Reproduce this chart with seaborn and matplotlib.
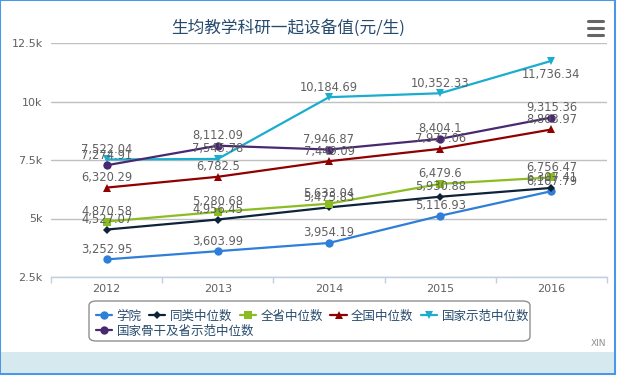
"""生均教学科研仪器设备值折线图（Highcharts 风格复刻）。"""

import matplotlib
matplotlib.use("Agg")
import matplotlib.pyplot as plt
import pandas as pd
import seaborn as sns
from matplotlib.patches import FancyBboxPatch, Rectangle
from matplotlib.lines import Line2D

YEARS = [2012, 2013, 2014, 2015, 2016]
SERIES = ["学院", "同类中位数", "全省中位数", "全国中位数", "国家示范中位数", "国家骨干及省示范中位数"]
XUEYUAN = [3252.95, 3603.99, 3954.19, 5116.93, 6167.79]
TONGLEI = [4527.07, 4956.45, 5475.83, 5930.88, 6307.41]
QUANSHENG = [4870.58, 5280.68, 5633.04, 6479.6, 6756.47]
QUANGUO = [6320.29, 6782.5, 7449.09, 7977.06, 8803.97]
SHIFAN = [7522.04, 7545.78, 10184.69, 10352.33, 11736.34]
GUGAN = [7274.91, 8112.09, 7946.87, 8404.1, 9315.36]
VALUES = [XUEYUAN, TONGLEI, QUANSHENG, QUANGUO, SHIFAN, GUGAN]
YTICKS = [2500, 5000, 7500, 10000, 12500]
YTICKLABELS = ["2.5k", "5k", "7.5k", "10k", "12.5k"]

COLORS = ["#2f7ed8", "#0d233a", "#8bbc21", "#910000", "#1aadce", "#492970"]
MARKERS = ["o", "D", "s", "^", "v", "o"]
MSIZE = [6, 4, 6, 6, 6, 6]

sns.set_theme(style="white")
plt.rcParams["font.family"] = ["DejaVu Sans", "Noto Sans CJK SC"]

rows = []
for name, vals in zip(SERIES, VALUES):
    for y, v in zip(YEARS, vals):
        rows.append({"year": y, "value": v, "series": name})
df = pd.DataFrame(rows)

W, H = 619, 377
fig = plt.figure(figsize=(W / 100, H / 100), dpi=100)


def fx(px):
    return px / W


def fy(py):
    return 1 - py / H


# Marco y banda inferior
fig.patches.append(Rectangle((fx(0), fy(374)), fx(615), 374 / H, transform=fig.transFigure,
                             facecolor="white", edgecolor="#4a97e8", lw=1.5, zorder=-3))
fig.patches.append(Rectangle((fx(1), fy(373)), fx(613), 21 / H, transform=fig.transFigure,
                             facecolor="#d6e9ee", edgecolor="none", zorder=-2))

ax = fig.add_axes([fx(51), fy(277), fx(556), (277 - 43) / H])
ax.set_facecolor("none")
ax.set_zorder(1)

for name, col, mk, ms in zip(SERIES, COLORS, MARKERS, MSIZE):
    sub = df[df["series"] == name]
    sns.lineplot(data=sub, x="year", y="value", ax=ax, color=col, lw=1.6,
                 marker=mk, markersize=ms, markeredgewidth=0, legend=False, zorder=3)

for vals in VALUES:
    for y, v in zip(YEARS, vals):
        txt = f"{v:,.2f}".rstrip("0").rstrip(".") if f"{v:.2f}".endswith("0") else f"{v:,.2f}"
        if v > 11300:
            ax.annotate(txt, (y, v), xytext=(0, -5), textcoords="offset points",
                        ha="center", va="top", fontsize=8.3, color="#606060", zorder=4)
        else:
            ax.annotate(txt, (y, v), xytext=(0, 2.5), textcoords="offset points",
                        ha="center", va="bottom", fontsize=8.3, color="#606060", zorder=4)

ax.set_xlim(2011.5, 2016.5)
ax.set_ylim(2500, 12500)
ax.set_yticks(YTICKS)
ax.set_yticklabels(YTICKLABELS)
ax.set_xticks(YEARS)
ax.set_xticks([2011.5 + i for i in range(6)], minor=True)
ax.grid(axis="y", color="#c0c0c0", lw=1)
ax.grid(axis="x", visible=False)
for s in ["top", "right", "left"]:
    ax.spines[s].set_visible(False)
ax.spines["bottom"].set_color("#c0d0e0")
ax.spines["bottom"].set_linewidth(1)
ax.tick_params(axis="y", length=0, pad=6, labelsize=8, labelcolor="#606060")
ax.tick_params(axis="x", which="major", length=0, pad=5, labelsize=8, labelcolor="#606060")
ax.tick_params(axis="x", which="minor", length=4, width=1, color="#c0d0e0", direction="out",
               bottom=True)
ax.set_xlabel("")
ax.set_ylabel("")

fig.text(fx(288), fy(28), "生均教学科研一起设备值(元/生)", ha="center", va="center",
         fontsize=12, color="#274b6d", family=["Noto Sans CJK SC", "DejaVu Sans"])

# Menú
for py in (21, 28, 35):
    fig.add_artist(Line2D([fx(588), fx(603)], [fy(py), fy(py)], color="#666666", lw=2.2,
                          solid_capstyle="round"))

# Leyenda
handles = [Line2D([], [], color=c, marker=m, markersize=s, markeredgewidth=0, lw=1.6)
           for c, m, s in zip(COLORS, MARKERS, MSIZE)]
leg_kw = dict(frameon=False, handlelength=1.3, handletextpad=0.35,
              columnspacing=0.6, borderpad=0, borderaxespad=0, labelcolor="#274b6d",
              prop={"family": ["Noto Sans CJK SC"], "size": 9})
leg1 = fig.legend(handles[:5], SERIES[:5], ncol=5, loc="center left",
                  bbox_to_anchor=(fx(96), fy(316)), **leg_kw)
leg2 = fig.legend(handles[5:], SERIES[5:], ncol=1, loc="center left",
                  bbox_to_anchor=(fx(96), fy(331)), **leg_kw)
fig.patches.append(FancyBboxPatch((fx(89), fy(341)), fx(441), 40 / H, transform=fig.transFigure,
                                  boxstyle="round,pad=0,rounding_size=0.012",
                                  facecolor="none", edgecolor="#909090", lw=1, zorder=2))

fig.text(fx(606), fy(344), "XIN", ha="right", va="center", fontsize=6.5, color="#909090")

fig.savefig("out.png", dpi=100)
